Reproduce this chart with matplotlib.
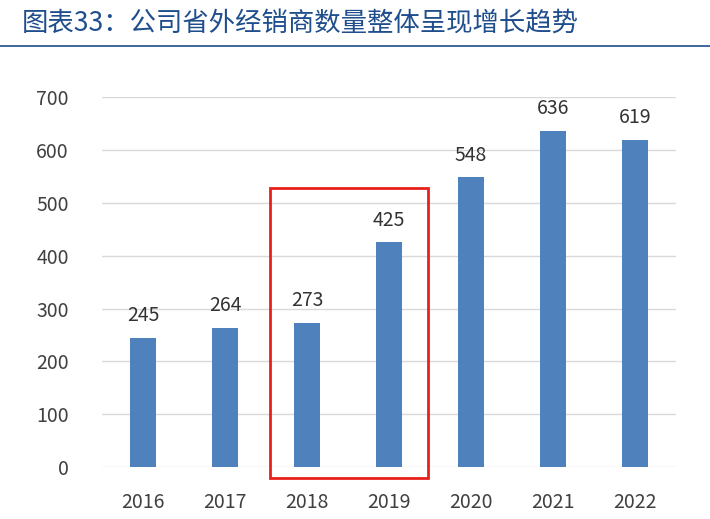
import matplotlib.pyplot as plt
from matplotlib.patches import Rectangle
from matplotlib.lines import Line2D

plt.rcParams['font.family'] = ['Noto Sans CJK SC', 'DejaVu Sans']

years = ["2016", "2017", "2018", "2019", "2020", "2021", "2022"]
dealers = [245, 264, 273, 425, 548, 636, 619]

fig = plt.figure(figsize=(7.1, 5.19), dpi=100)
ax = fig.add_axes([0.144, 0.100, 0.808, 0.713])

x = range(len(years))
ax.bar(x, dealers, width=0.32, color="#4f81bd", zorder=3)
for i, v in zip(x, dealers):
    ax.text(i, v + 22, str(v), ha="center", va="bottom", fontsize=14, color="#333333")

ax.set_xlim(-0.5, 6.5)
ax.set_ylim(0, 700)
ax.set_yticks(range(0, 701, 100))
ax.set_xticks(list(x))
ax.set_xticklabels(years)
ax.grid(axis="y", color="#d9d9d9", lw=1, zorder=0)
for s in ax.spines.values():
    s.set_visible(False)
ax.tick_params(length=0, labelsize=14, colors="#404040")
ax.tick_params(axis="x", pad=18)
ax.tick_params(axis="y", pad=24)

ax.add_patch(Rectangle((1.55, -21), 1.93, 549, fill=False, edgecolor="#e8201c",
                       lw=2, clip_on=False, zorder=4))

fig.text(0.03, 0.955, "图表33：公司省外经销商数量整体呈现增长趋势", fontsize=19,
         color="#1f4e8c", va="center", ha="left")
fig.add_artist(Line2D([0.0, 1.0], [0.912, 0.912], color="#1f4e8c", lw=1.2))

fig.savefig("out.png", dpi=100)
